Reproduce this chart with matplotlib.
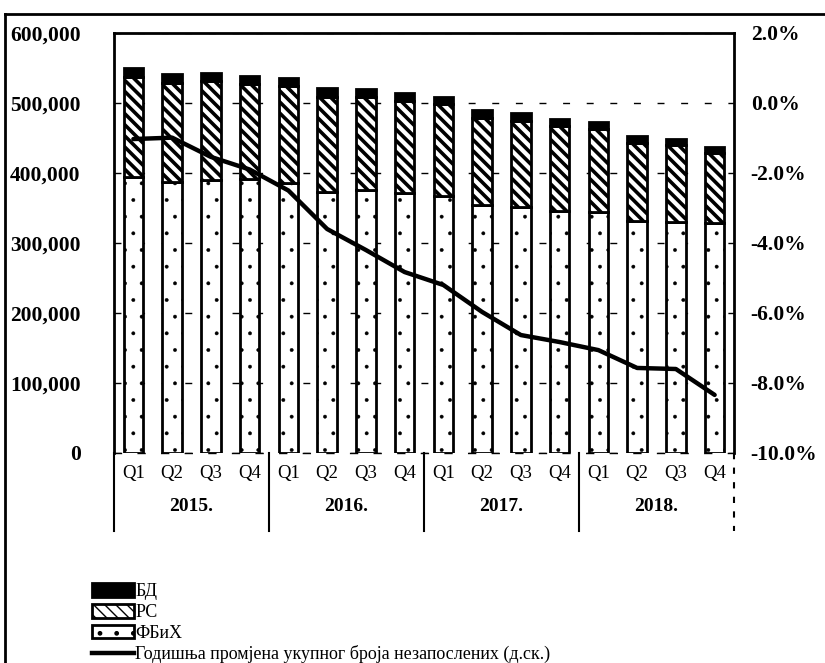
import matplotlib
matplotlib.use("Agg")
import matplotlib.pyplot as plt
from matplotlib.patches import Patch
from matplotlib.lines import Line2D
from matplotlib.ticker import FuncFormatter, MultipleLocator
import matplotlib.transforms as mtransforms

plt.rcParams['font.family'] = ['Liberation Serif', 'DejaVu Serif']

quarters = ["Q1", "Q2", "Q3", "Q4"] * 4
years = ["2015.", "2016.", "2017.", "2018."]

fbih = [394000, 387000, 390000, 391000, 386000, 373000, 376000, 371000,
        367000, 354000, 351000, 346000, 344000, 331000, 330000, 329000]
rs = [143000, 141000, 141000, 136000, 138000, 136000, 133000, 132000,
      131000, 125000, 124000, 121000, 119000, 112000, 110000, 99000]
bd = [13000, 13000, 12000, 12000, 12000, 12000, 11000, 11000,
      11000, 11000, 11000, 10000, 10000, 10000, 9000, 9000]
annual_change = [-1.03, -0.99, -1.54, -1.90, -2.50, -3.60, -4.20, -4.83,
                 -5.20, -5.97, -6.63, -6.83, -7.06, -7.57, -7.60, -8.34]

labels = ["БД", "РС", "ФБиХ",
          "Годишња промјена укупног броја незапослених (д.ск.)"]

DOT_HATCH = "."
RS_HATCH = "\\\\\\"


def set_hlw(artists, lw):
    for a in artists:
        if hasattr(a, "set_hatch_linewidth"):
            a.set_hatch_linewidth(lw)


fig = plt.figure(figsize=(8.25, 6.63), dpi=100)
ax = fig.add_axes([114/825, 1-453/663, 620/825, 420/663])

x = list(range(len(fbih)))
bottom_rs = fbih
bottom_bd = [a + b for a, b in zip(fbih, rs)]

w = 0.5
with plt.rc_context({"hatch.linewidth": 0.3}):
    b1 = ax.bar(x, fbih, width=w, color="white", edgecolor="black",
                linewidth=2, hatch=DOT_HATCH, zorder=2)
set_hlw(b1, 0.3)
with plt.rc_context({"hatch.linewidth": 2.6}):
    b2 = ax.bar(x, rs, width=w, bottom=bottom_rs, color="white",
                edgecolor="black", linewidth=2, hatch=RS_HATCH, zorder=2)
set_hlw(b2, 2.6)
ax.bar(x, bd, width=w, bottom=bottom_bd, color="black", edgecolor="black",
       linewidth=2, zorder=2)

ax.set_xlim(-0.5, 15.5)
ax.set_ylim(0, 600000)
ax.yaxis.set_major_locator(MultipleLocator(100000))
ax.yaxis.set_major_formatter(FuncFormatter(lambda v, p: f"{int(v):,}"))
ax.grid(axis="y", color="black", linestyle=(0, (5, 12)), linewidth=1, zorder=0)
ax.set_axisbelow(True)
ax.set_xticks([])
ax.tick_params(axis="y", length=0, pad=24, labelsize=15.5)
for t in ax.get_yticklabels():
    t.set_fontweight("bold")

for s in ["left", "right", "top"]:
    ax.spines[s].set_linewidth(2)
ax.spines["bottom"].set_linestyle((0, (5, 12)))
ax.spines["bottom"].set_linewidth(1)

ax2 = ax.twinx()
ax2.plot(x, annual_change, color="black", linewidth=3.2, zorder=5,
         solid_joinstyle="round", solid_capstyle="round")
ax2.set_ylim(-10, 2)
ax2.yaxis.set_major_locator(MultipleLocator(2))
ax2.yaxis.set_major_formatter(FuncFormatter(lambda v, p: f"{v:.1f}%"))
ax2.tick_params(axis="y", length=0, pad=12, labelsize=15.5)
for t in ax2.get_yticklabels():
    t.set_fontweight("bold")
for s in ax2.spines.values():
    s.set_visible(False)

trans = mtransforms.blended_transform_factory(ax.transData, ax.transAxes)
for i, q in enumerate(quarters):
    ax.text(i, -0.048, q, transform=trans, ha="center", va="center",
            fontsize=13.5, clip_on=False)
for g, yl in enumerate(years):
    ax.text(g * 4 + 1.5, -0.127, yl, transform=trans, ha="center",
            va="center", fontsize=14, fontweight="bold", clip_on=False)
for g in range(5):
    ls = "-" if g < 4 else (0, (3, 4))
    ax.plot([g * 4 - 0.5, g * 4 - 0.5], [0, -0.185], transform=trans,
            color="black", linewidth=1.5, linestyle=ls, clip_on=False)

# outer border
fig.add_artist(Line2D([5/825, 5/825], [0, 1-14/663], color="black",
                      linewidth=2, transform=fig.transFigure))
fig.add_artist(Line2D([5/825, 1], [1-14/663, 1-14/663], color="black",
                      linewidth=2, transform=fig.transFigure))

with plt.rc_context({"hatch.linewidth": 0.3}):
    h_fb = Patch(facecolor="white", edgecolor="black", hatch=DOT_HATCH,
                 linewidth=2)
set_hlw([h_fb], 0.3)
with plt.rc_context({"hatch.linewidth": 2.6}):
    h_rs = Patch(facecolor="white", edgecolor="black", hatch=RS_HATCH,
                 linewidth=2)
set_hlw([h_rs], 2.6)
handles = [
    Patch(facecolor="black", edgecolor="black", linewidth=2),
    h_rs,
    h_fb,
    Line2D([0], [0], color="black", linewidth=3.2),
]
fig.legend(handles, labels, loc="upper left",
           bbox_to_anchor=(92/825, 1-583/663), frameon=False,
           fontsize=13, handlelength=2.3, handleheight=0.8,
           handletextpad=0.1, labelspacing=0.2, borderpad=0,
           borderaxespad=0)

fig.savefig("out.png", dpi=100)
